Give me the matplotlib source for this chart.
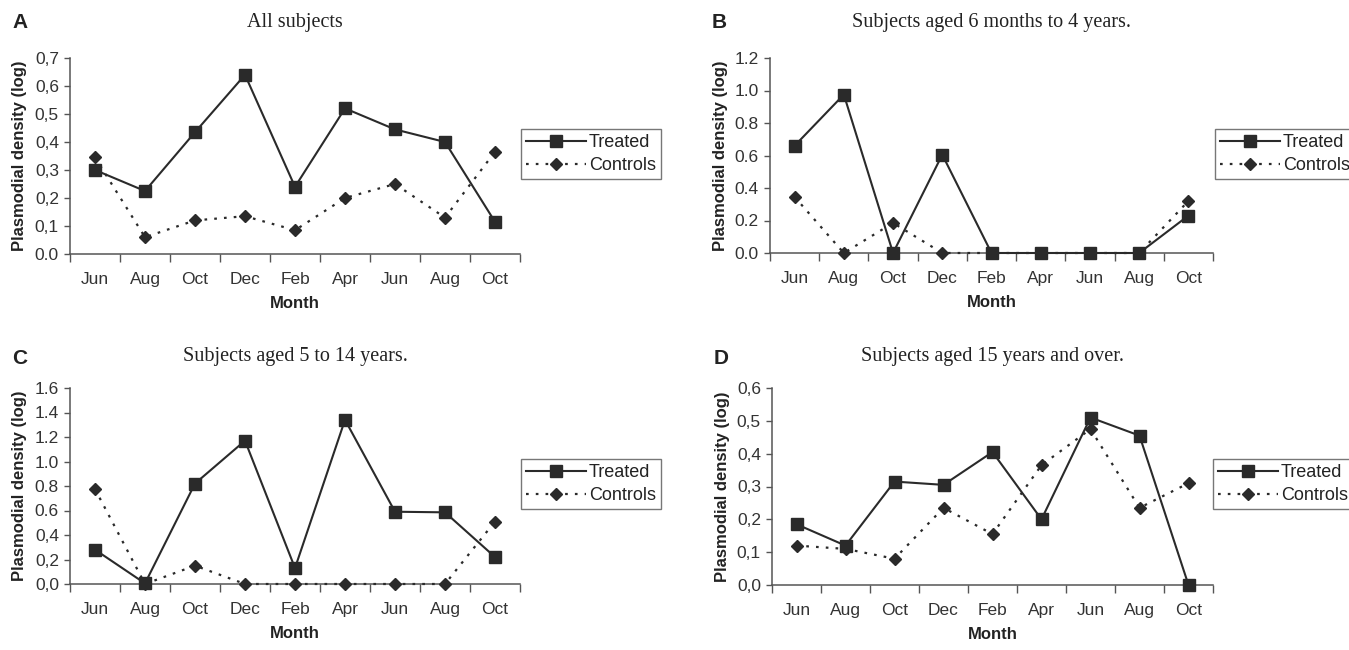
import numpy as np
import matplotlib
matplotlib.use('Agg')
import matplotlib.pyplot as plt

months = ['Jun', 'Aug', 'Oct', 'Dec', 'Feb', 'Apr', 'Jun', 'Aug', 'Oct']

# panel A: all subjects
treated_a = [0.30, 0.225, 0.435, 0.64, 0.24, 0.52, 0.445, 0.40, 0.115]
controls_a = [0.345, 0.06, 0.12, 0.135, 0.085, 0.20, 0.25, 0.13, 0.365]
yticks_a = ['0.0', '0,1', '0,2', '0,3', '0,4', '0,5', '0,6', '0,7']

# panel B: 6 months to 4 years
treated_b = [0.66, 0.975, 0.0, 0.605, 0.0, 0.0, 0.0, 0.0, 0.23]
controls_b = [0.345, 0.0, 0.185, 0.0, 0.0, 0.0, 0.0, 0.0, 0.32]
yticks_b = ['0.0', '0.2', '0.4', '0.6', '0.8', '1.0', '1.2']

# panel C: 5 to 14 years
treated_c = [0.28, 0.005, 0.82, 1.17, 0.13, 1.34, 0.59, 0.585, 0.22]
controls_c = [0.775, 0.0, 0.15, 0.0, 0.0, 0.0, 0.0, 0.0, 0.51]
yticks_c = ['0,0', '0,2', '0,4', '0.6', '0.8', '1.0', '1.2', '1.4', '1.6']

# panel D: 15 years and over
treated_d = [0.185, 0.12, 0.315, 0.305, 0.405, 0.20, 0.51, 0.455, 0.0]
controls_d = [0.12, 0.11, 0.08, 0.235, 0.155, 0.365, 0.475, 0.235, 0.31]
yticks_d = ['0,0', '0,1', '0,2', '0,3', '0,4', '0,5', '0,6']

W, H = 1349, 650
INK = '#2a2a2a'
AXC = '#555555'
SANS = 'Liberation Sans'
SERIF = 'Liberation Serif'


def px(x0, y0, x1, y1):
    # pixel box (top-left origin) -> figure fraction rect
    return [x0 / W, 1 - y1 / H, (x1 - x0) / W, (y1 - y0) / H]


def panel(fig, rect, letter, title, treated, controls, ylabels, ystep,
          legend_xy, title_y, letter_y):
    ax = fig.add_axes(px(*rect))
    x = np.arange(len(months))
    ax.plot(x, treated, color=INK, lw=1.5, marker='s', ms=9,
            mfc=INK, mec=INK, label='Treated', zorder=3, clip_on=False)
    ax.plot(x, controls, color=INK, lw=1.6, ls=(0, (1.2, 3.2)), marker='D',
            ms=6.5, mfc=INK, mec=INK, label='Controls', zorder=4,
            clip_on=False)

    ax.set_xlim(-0.5, len(months) - 0.5)
    ymax = ystep * (len(ylabels) - 1)
    ax.set_ylim(0, ymax)
    ax.set_yticks(np.arange(len(ylabels)) * ystep)
    ax.set_yticklabels(ylabels)

    ax.set_xticks(np.arange(-0.5, len(months), 1))
    ax.set_xticklabels([])
    ax.set_xticks(x, minor=True)
    ax.set_xticklabels(months, minor=True)
    ax.tick_params(axis='x', which='major', length=6, width=1, color=AXC,
                   direction='out')
    ax.tick_params(axis='x', which='minor', length=0, pad=13,
                   labelsize=12.5, labelcolor='#333333')
    ax.tick_params(axis='y', length=4, width=1, color=AXC, direction='out',
                   labelsize=12.5, labelcolor='#333333', pad=4)
    for lab in ax.get_xticklabels(minor=True) + ax.get_yticklabels():
        lab.set_family(SANS)

    for s in ['top', 'right']:
        ax.spines[s].set_visible(False)
    for s in ['left', 'bottom']:
        ax.spines[s].set_color(AXC)
        ax.spines[s].set_linewidth(1.1)

    ax.set_xlabel('Month', fontsize=12, fontweight='bold', family=SANS,
                  color='#222222')
    ax.xaxis.set_label_coords(0.5, -0.215)
    ax.set_ylabel('Plasmodial density (log)', fontsize=12,
                  fontweight='bold', family=SANS, color='#222222')
    ax.yaxis.set_label_coords(-0.095, 0.5)

    cx = (rect[0] + rect[2]) / 2
    fig.text(cx / W, 1 - title_y / H, title, ha='center', va='center',
             family=SERIF, fontsize=14.5, color='#222222')
    fig.text((rect[0] - 58) / W, 1 - letter_y / H, letter, ha='left',
             va='center', family=SANS, fontweight='bold', fontsize=15,
             color='#222222')

    leg = ax.legend(loc='upper left',
                    bbox_to_anchor=(legend_xy[0] / W, 1 - legend_xy[1] / H),
                    bbox_transform=fig.transFigure, frameon=True,
                    fancybox=False, edgecolor='#777777', framealpha=1,
                    prop={'family': SANS, 'size': 13}, handlelength=3.3,
                    handletextpad=0.15, borderpad=0.3, labelspacing=0.3,
                    borderaxespad=0)
    leg.get_frame().set_linewidth(1.0)
    for t in leg.get_texts():
        t.set_color('#222222')
    return ax


fig = plt.figure(figsize=(W / 100, H / 100), dpi=100)

panel(fig, (70, 58, 520, 254), 'A', 'All subjects', treated_a, controls_a,
      yticks_a, 0.1, (521, 129), 22, 22)
panel(fig, (770, 58, 1213, 253), 'B', 'Subjects aged 6 months to 4 years.',
      treated_b, controls_b, yticks_b, 0.2, (1215, 129), 22, 22)
panel(fig, (70, 388, 520, 584), 'C', 'Subjects aged 5 to 14 years.',
      treated_c, controls_c, yticks_c, 0.2, (521, 459), 357, 358)
panel(fig, (772, 388, 1213, 585), 'D', 'Subjects aged 15 years and over.',
      treated_d, controls_d, yticks_d, 0.1, (1213, 459), 357, 358)

fig.savefig('out.png', dpi=100, facecolor='white')
